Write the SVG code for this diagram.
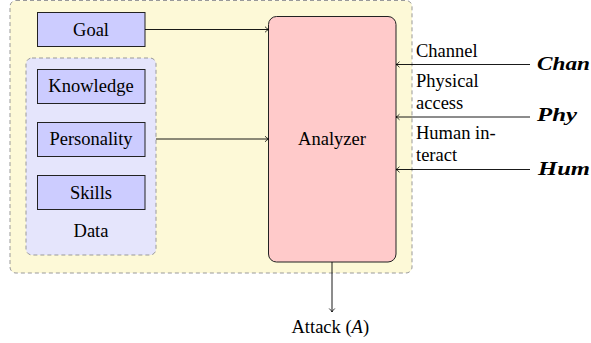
<svg xmlns="http://www.w3.org/2000/svg" width="591" height="343" viewBox="0 0 591 343">
<defs>
<marker id="arr" markerWidth="8" markerHeight="8" refX="6" refY="4" orient="auto" markerUnits="userSpaceOnUse">
<path d="M2.5,1.2 Q4.5,3.3 6,4 Q4.5,4.7 2.5,6.8" fill="none" stroke="#000" stroke-width="0.8"/>
</marker>
<style>
.box{fill:#ccccff;stroke:#222;stroke-width:1}
.lbl{text-anchor:middle}
.math{font-weight:bold;font-style:italic}
.conn{stroke:#000;stroke-width:0.9;fill:none;marker-end:url(#arr)}
</style>
</defs>
<g font-family="'Liberation Serif', 'DejaVu Serif', serif" font-size="18.5" fill="#000">
<g id="outer">
<rect x="10" y="0.5" width="402" height="272.5" rx="6" fill="#fdf9d7" stroke="#999" stroke-width="1" stroke-dasharray="4,3"/>
</g>
<g id="data">
<rect x="26" y="58" width="130" height="197" rx="6" fill="#e5e5fc" stroke="#999" stroke-width="1" stroke-dasharray="4,3"/>
<text class="lbl" x="91" y="237">Data</text>
</g>
<g id="goal">
<rect class="box" x="37.5" y="12.5" width="107.5" height="34"/>
<text class="lbl" x="91" y="35.7">Goal</text>
</g>
<g id="knowledge">
<rect class="box" x="37.5" y="69.5" width="107.5" height="34"/>
<text class="lbl" x="91" y="92.2">Knowledge</text>
</g>
<g id="personality">
<rect class="box" x="37.5" y="122.5" width="107.5" height="34"/>
<text class="lbl" x="91" y="145.2">Personality</text>
</g>
<g id="skills">
<rect class="box" x="37.5" y="175.5" width="107.5" height="34"/>
<text class="lbl" x="91" y="198.7">Skills</text>
</g>
<g id="analyzer">
<rect x="268.5" y="16.5" width="127.5" height="245.5" rx="8" fill="#ffcaca" stroke="#222" stroke-width="1"/>
<text class="lbl" x="332" y="145">Analyzer</text>
</g>
<g id="labels">
<text x="416" y="56.7">Channel</text>
<text x="416" y="87.3">Physical</text>
<text x="416" y="109.3">access</text>
<text x="416" y="139">Human in-</text>
<text x="416" y="161">teract</text>
<text class="math" x="537" y="70" textLength="53" lengthAdjust="spacingAndGlyphs">Chan</text>
<text class="math" x="537" y="121" textLength="40" lengthAdjust="spacingAndGlyphs">Phy</text>
<text class="math" x="538" y="175" textLength="52" lengthAdjust="spacingAndGlyphs">Hum</text>
<text x="291.5" y="333.3">Attack (<tspan font-style="italic">A</tspan>)</text>
</g>
<g id="connectors">
<line class="conn" x1="145" y1="29.5" x2="268.5" y2="29.5"/>
<line class="conn" x1="156" y1="139" x2="268.5" y2="139"/>
<line class="conn" x1="530" y1="64.5" x2="396" y2="64.5"/>
<line class="conn" x1="530" y1="117" x2="396" y2="117"/>
<line class="conn" x1="530" y1="169.5" x2="396" y2="169.5"/>
<line class="conn" x1="332" y1="262" x2="332" y2="312"/>
</g>
</g>
</svg>
